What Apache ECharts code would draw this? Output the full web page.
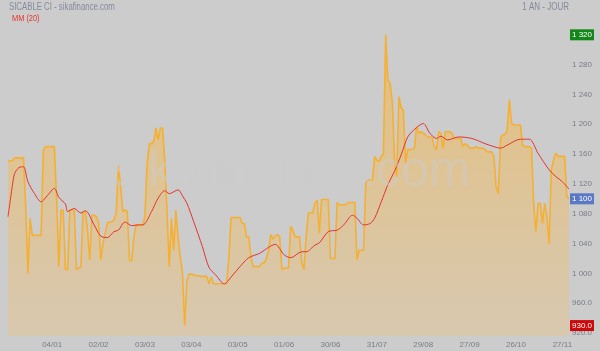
<!DOCTYPE html>
<html>
<head>
<meta charset="utf-8">
<script src="https://cdn.jsdelivr.net/npm/echarts@6/dist/echarts.min.js"></script>
<style>
  html, body { margin: 0; padding: 0; background: #cccccc; }
  #chart { width: 600px; height: 351px; }
</style>
</head>
<body>
<div id="chart"></div>
<script>
// trading days: weekdays from 07/12/2016 to 30/11/2017, market closed on these
var startDay = '2016-12-07';
var endDay = '2017-11-30';
var closedDays = ['2017-05-01', '2017-11-01'];

// x labels shown under the chart
var tickLabels = ['04/01', '02/02', '03/03', '03/04', '03/05', '01/06', '30/06', '31/07', '29/08', '27/09', '26/10', '27/11'];

// y labels on the right
var yTicks = [920, 960, 1000, 1040, 1080, 1120, 1160, 1200, 1240, 1280, 1320];

// daily close (FCFA)
var closes = [
  1150, 1151, 1151, 1155, 1155, 1155, 1155, 1155, 1090, 1000,
  1074, 1051, 1051, 1051, 1051, 1051, 1165, 1170, 1170, 1170,
  1170, 1170, 1100, 1009, 1085, 1085, 1005, 1005, 1085, 1085,
  1085, 1005, 1007, 1009, 1083, 1083, 1058, 1018, 1078, 1078,
  1076, 1069, 1018, 1040, 1054, 1068, 1069, 1069, 1072, 1081,
  1145, 1116, 1083, 1085, 1083, 1018, 1016, 1049, 1065, 1065,
  1065, 1065, 1076, 1148, 1174, 1174, 1177, 1195, 1179, 1195,
  1195, 1148, 1081, 1009, 1074, 1031, 1085, 1049, 1022, 1000,
  930, 990, 999, 999, 998, 997, 997, 996, 996, 996,
  996, 986, 995, 986, 986, 986, 986, 986, 986, 986,
  1020, 1075, 1075, 1075, 1075, 1075, 1067, 1067, 1049, 1049,
  1022, 1009, 1009, 1009, 1009, 1014, 1014, 1020, 1031, 1052,
  1046, 1050, 1052, 1049, 1005, 1007, 1007, 1007, 1063, 1058,
  1049, 1049, 1049, 1014, 1005, 1049, 1081, 1081, 1081, 1094,
  1098, 1054, 1099, 1099, 1099, 1099, 1020, 1020, 1020, 1095,
  1092, 1092, 1092, 1092, 1095, 1095, 1095, 1095, 1018, 1031,
  1031, 1031, 1121, 1125, 1125, 1125, 1157, 1152, 1150, 1157,
  1160, 1320, 1259, 1255, 1230, 1152, 1130, 1237, 1222, 1219,
  1148, 1166, 1166, 1166, 1168, 1197, 1188, 1190, 1188, 1186,
  1183, 1183, 1183, 1170, 1166, 1190, 1188, 1168, 1190, 1190,
  1190, 1188, 1181, 1181, 1181, 1181, 1170, 1174, 1172, 1168,
  1168, 1168, 1170, 1168, 1168, 1168, 1166, 1163, 1163, 1163,
  1157, 1116, 1107, 1181, 1186, 1186, 1192, 1233, 1201, 1199,
  1199, 1199, 1199, 1172, 1170, 1170, 1170, 1168, 1094, 1056,
  1094, 1094, 1067, 1094, 1076, 1040, 1139, 1152, 1161, 1157,
  1157, 1157, 1157, 1103, 1100
];

// MM (20), [day index, value]
var mm20 = [
  [0, 1076], [2, 1118], [3, 1134], [5, 1142], [7, 1143], [9, 1123], [12, 1107], [15, 1096],
  [18, 1105], [21, 1114], [23, 1102], [26, 1093], [27, 1083], [30, 1087], [33, 1081], [35, 1084],
  [39, 1065], [42, 1050], [45, 1048], [48, 1056], [50, 1058], [53, 1069], [56, 1064], [59, 1065],
  [61, 1065], [65, 1083], [68, 1101], [71, 1111], [73, 1107], [77, 1112], [79, 1104], [81, 1094],
  [84, 1070], [88, 1036], [91, 1008], [94, 998], [98, 986], [101, 995], [105, 1009], [109, 1021],
  [114, 1027], [118, 1035], [121, 1039], [125, 1025], [128, 1021], [133, 1029], [135, 1029], [139, 1038],
  [141, 1041], [145, 1056], [149, 1058], [152, 1065], [156, 1078], [158, 1074], [161, 1065], [164, 1067],
  [166, 1074], [169, 1096], [172, 1119], [175, 1137], [178, 1159], [181, 1183], [184, 1193], [188, 1201],
  [191, 1188], [194, 1181], [196, 1184], [199, 1179], [204, 1183], [210, 1181], [216, 1174], [220, 1170],
  [223, 1168], [226, 1172], [232, 1180], [236, 1180], [240, 1161], [245, 1139], [248, 1130], [251, 1123],
  [254, 1113]
];

var highValue = 1320;
var lowValue = 930;
var lastValue = 1100;

function pad(n) { return n < 10 ? '0' + n : '' + n; }

var days = [];
var d = new Date(startDay + 'T12:00:00Z');
var stop = new Date(endDay + 'T12:00:00Z');
while (d <= stop) {
  var wd = d.getUTCDay();
  var iso = d.getUTCFullYear() + '-' + pad(d.getUTCMonth() + 1) + '-' + pad(d.getUTCDate());
  if (wd != 0 && wd != 6 && closedDays.indexOf(iso) < 0) {
    days.push(pad(d.getUTCDate()) + '/' + pad(d.getUTCMonth() + 1));
  }
  d.setUTCDate(d.getUTCDate() + 1);
}

function fmtPrice(v) {
  if (v >= 1000) {
    var s = String(Math.round(v));
    return s.slice(0, s.length - 3) + ' ' + s.slice(s.length - 3);
  }
  return v.toFixed(1);
}

var font = '"Liberation Sans", Arial, sans-serif';

function boxLabel(value, color) {
  return {
    yAxis: value,
    label: {
      show: true,
      position: 'end',
      distance: 1,
      formatter: fmtPrice(value),
      color: '#fff',
      backgroundColor: color,
      padding: [2, 2, 1, 2],
      fontFamily: font,
      fontSize: 8
    }
  };
}

var myChart = echarts.init(document.getElementById('chart'));

var option = {
  backgroundColor: '#cccccc',
  animation: false,
  legend: { show: false },
  grid: { left: 8, right: 31, top: 5, bottom: 15, containLabel: false },
  xAxis: {
    type: 'category',
    data: days,
    boundaryGap: false,
    axisLine: { show: false },
    axisTick: { show: false },
    splitLine: { show: false },
    axisLabel: {
      color: '#7a7d88',
      fontSize: 8,
      fontFamily: font,
      margin: 5,
      interval: function (i, v) { return tickLabels.indexOf(v) >= 0; }
    }
  },
  yAxis: {
    type: 'value',
    position: 'right',
    min: 916,
    max: 1360,
    axisLine: { show: false },
    axisTick: { show: false },
    splitLine: { show: false },
    axisLabel: {
      customValues: yTicks,
      color: '#7a7d88',
      fontSize: 8,
      fontFamily: font,
      margin: 3,
      formatter: function (v) { return fmtPrice(v); }
    }
  },
  graphic: [
    {
      type: 'text',
      left: 112,
      top: 147,
      z: 50,
      silent: true,
      style: {
        text: 'sikafinance.com',
        font: '50px "Liberation Sans", Arial, sans-serif',
        fill: 'rgba(204,204,204,0.45)'
      }
    },
    {
      type: 'text', x: 9, y: 2, scaleX: 0.78, z: 60, silent: true,
      style: { text: 'SICABLE CI - sikafinance.com', font: '10px ' + font, fill: '#858aa0' }
    },
    {
      type: 'text', x: 12, y: 13, scaleX: 0.78, z: 60, silent: true,
      style: { text: 'MM (20)', font: '9.5px ' + font, fill: '#e3342c' }
    },
    {
      type: 'text', x: 569, y: 2, scaleX: 0.8, z: 60, silent: true,
      style: { text: '1 AN - JOUR', font: '10px ' + font, fill: '#858a9a', align: 'right' }
    }
  ],
  series: [
    {
      name: 'SICABLE CI',
      type: 'line',
      data: closes,
      symbol: 'none',
      lineStyle: { color: '#f5b032', width: 1.6 },
      itemStyle: { color: '#f5b032' },
      areaStyle: {
        origin: 'start',
        color: {
          type: 'linear', x: 0, y: 0, x2: 0, y2: 1,
          colorStops: [
            { offset: 0, color: 'rgba(248,180,55,0.78)' },
            { offset: 1, color: 'rgba(236,194,128,0.55)' }
          ]
        }
      },
      markLine: {
        silent: true,
        symbol: 'none',
        lineStyle: { color: 'rgba(0,0,0,0)', width: 0 },
        data: [
          boxLabel(highValue, '#13871a'),
          boxLabel(lastValue, '#5a78c4'),
          boxLabel(lowValue, '#cc0a0a')
        ]
      },
      z: 2
    },
    {
      name: 'MM (20)',
      type: 'line',
      data: mm20,
      symbol: 'none',
      smooth: 0.3,
      lineStyle: { color: '#e3342c', width: 1 },
      itemStyle: { color: '#e3342c' },
      z: 3
    }
  ]
};

myChart.setOption(option);
</script>
</body>
</html>
